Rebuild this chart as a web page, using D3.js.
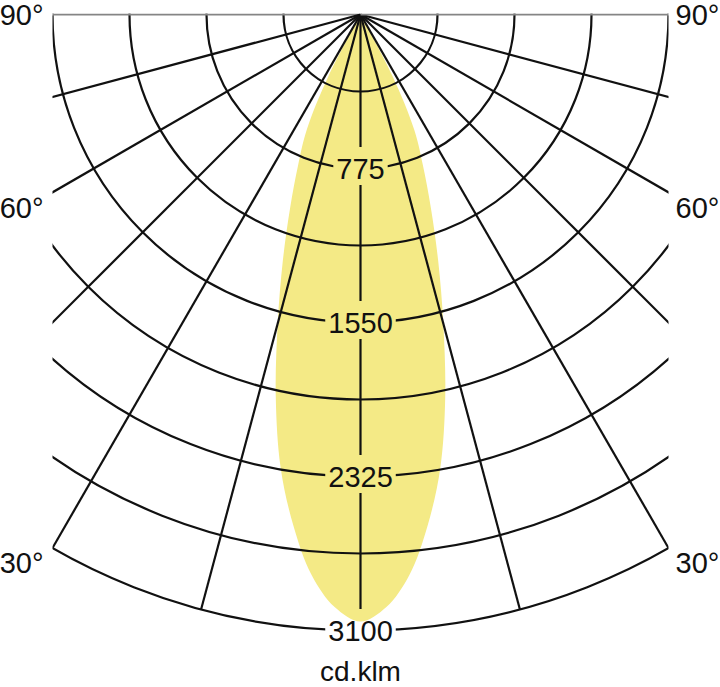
<!DOCTYPE html>
<html>
<head>
<meta charset="utf-8">
<script src="https://cdn.jsdelivr.net/npm/d3@7"></script>
<style>
  body { margin: 0; background: #fff; }
  text { font-family: "Liberation Sans", Arial, sans-serif; fill: #111; }
</style>
</head>
<body>
<div id="container"></div>
<script>
// luminous intensity (cd/klm) against angle from nadir
const beamAngles = [-30, -27.5, -25, -22.5, -20, -17.5, -15, -12.5, -10, -7.5, -5, -2.5, 0,
                    2.5, 5, 7.5, 10, 12.5, 15, 17.5, 20, 22.5, 25, 27.5, 30];
const beamValues = [0, 350, 640, 820, 1035, 1300, 1610, 1970, 2315, 2592, 2830, 2985, 3055,
                    2985, 2830, 2592, 2315, 1970, 1610, 1300, 1035, 820, 640, 350, 0];

const ringValues = [387.5, 775, 1162.5, 1550, 1937.5, 2325, 2712.5, 3100];
const tickValues = [775, 1550, 2325, 3100];
const tickLabels = ["775", "1550", "2325", "3100"];
const spokeAngles = [-90, -75, -60, -45, -30, -15, 0, 15, 30, 45, 60, 75, 90];
const angleValues = [90, 60, 30];
const angleLabels = ["90°", "60°", "30°"];
const unitLabel = "cd.klm";

(function () {
  const width = 720, height = 687;
  const cx = 360.5, cy = 14.5;
  const rMax = 616, halfW = 308;
  const fontSize = 29;
  const rad = d => d * Math.PI / 180;

  const r = d3.scaleLinear().domain([0, 3100]).range([0, rMax]);

  const svg = d3.select("#container").append("svg")
    .attr("width", width)
    .attr("height", height);

  const defs = svg.append("defs");
  defs.append("clipPath").attr("id", "grid-clip")
    .append("rect")
    .attr("x", cx - halfW).attr("y", cy - 1)
    .attr("width", halfW * 2).attr("height", rMax + 10);

  const mask = defs.append("mask").attr("id", "label-gap")
    .attr("maskUnits", "userSpaceOnUse")
    .attr("x", 0).attr("y", 0).attr("width", width).attr("height", height);
  mask.append("rect").attr("width", width).attr("height", height).attr("fill", "#fff");

  const g = svg.append("g").attr("transform", `translate(${cx},${cy})`);

  // beam
  const beam = d3.lineRadial()
    .angle(d => Math.PI - rad(d[0]))
    .radius(d => r(d[1]))
    .curve(d3.curveCatmullRom);
  g.append("path")
    .attr("d", beam(d3.zip(beamAngles, beamValues)) + "Z")
    .attr("fill", "#f4ea86")
    .attr("stroke", "none");

  // grid
  const grid = svg.append("g")
    .attr("clip-path", "url(#grid-clip)")
    .attr("mask", "url(#label-gap)")
    .append("g")
    .attr("transform", `translate(${cx},${cy})`)
    .attr("fill", "none");

  grid.selectAll("circle.ring").data(ringValues).join("circle")
    .attr("class", "ring")
    .attr("r", d => r(d))
    .attr("stroke", "#111")
    .attr("stroke-width", 2.2);

  grid.selectAll("line.spoke").data(spokeAngles).join("line")
    .attr("class", "spoke")
    .attr("x1", 0).attr("y1", 0)
    .attr("x2", d => rMax * Math.sin(rad(d)))
    .attr("y2", d => rMax * Math.cos(rad(d)))
    .attr("stroke", d => Math.abs(d) === 90 ? "#858585" : "#111")
    .attr("stroke-width", d => Math.abs(d) === 90 ? 1.8 : 2.2);

  // intensity labels on the nadir axis
  const ticks = g.selectAll("text.tick").data(tickValues).join("text")
    .attr("class", "tick")
    .attr("x", 0)
    .attr("y", d => r(d) + 10.5)
    .attr("text-anchor", "middle")
    .attr("font-size", fontSize)
    .text((d, i) => tickLabels[i]);

  ticks.each(function () {
    let b = this.getBBox();
    mask.append("rect")
      .attr("x", cx + b.x - 3).attr("y", cy + b.y - 6)
      .attr("width", b.width + 6).attr("height", b.height + 6)
      .attr("fill", "#000");
  });

  // angle labels on both sides
  const labelY = a => a === 90 ? cy + 10 : cy + halfW / Math.tan(rad(a)) + 25.5;
  angleValues.forEach((a, i) => {
    svg.append("text")
      .attr("x", cx - halfW - 9).attr("y", labelY(a))
      .attr("text-anchor", "end")
      .attr("font-size", fontSize)
      .text(angleLabels[i]);
    svg.append("text")
      .attr("x", cx + halfW + 7).attr("y", labelY(a))
      .attr("text-anchor", "start")
      .attr("font-size", fontSize)
      .text(angleLabels[i]);
  });

  svg.append("text")
    .attr("x", cx).attr("y", 681)
    .attr("text-anchor", "middle")
    .attr("font-size", fontSize - 1)
    .text(unitLabel);
})();
</script>
</body>
</html>
